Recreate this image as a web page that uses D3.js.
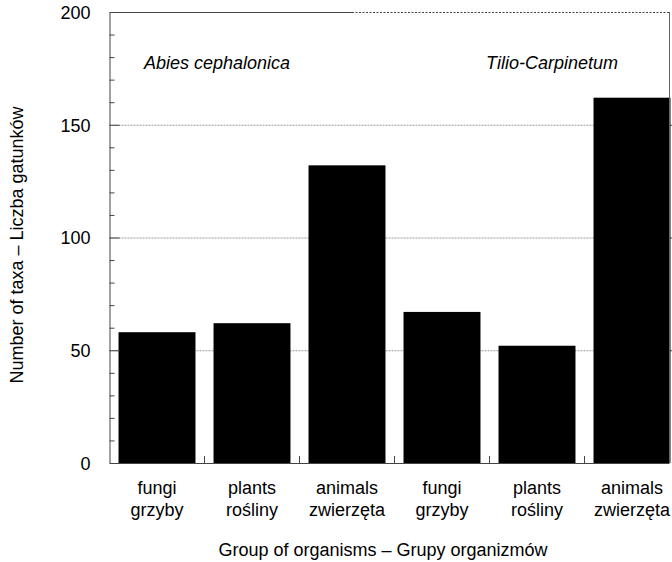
<!DOCTYPE html>
<html><head><meta charset="utf-8">
<script src="https://cdn.jsdelivr.net/npm/d3@7"></script>
<style>body{margin:0;background:#fff}svg{display:block}text{font-family:"Liberation Sans",Arial,sans-serif;fill:#000}</style>
</head><body><svg id="c" width="672" height="562"></svg>
<script>
const categories = ["c1","c2","c3","c4","c5","c6"];
const labelsTop = ["fungi","plants","animals","fungi","plants","animals"];
const labelsBottom = ["grzyby","rośliny","zwierzęta","grzyby","rośliny","zwierzęta"];
const values = [58, 62, 132, 67, 52, 162];
const yTicks = [0, 50, 100, 150, 200];
const groupNames = ["Abies cephalonica", "Tilio-Carpinetum"];

const svg = d3.select("#c");
const L = 109.5, R = 669.5, T = 12, B = 463;
const x = d3.scaleBand().domain(categories).range([L, L + 95*6]).paddingInner(0.19).paddingOuter(0.095);
const y = d3.scaleLinear().domain([0, 200]).range([B, T]);

// grid
svg.append("g").selectAll("line").data([50,100,150]).join("line")
  .attr("x1", L).attr("x2", R).attr("y1", d=>y(d)+0.5).attr("y2", d=>y(d)+0.5)
  .attr("stroke", "#999").attr("stroke-dasharray", "2,1");
// top
svg.append("line").attr("x1", L).attr("x2", 352).attr("y1", y(200)+0.5).attr("y2", y(200)+0.5).attr("stroke","#444");
svg.append("line").attr("x1", 352).attr("x2", R).attr("y1", y(200)+0.5).attr("y2", y(200)+0.5).attr("stroke","#444").attr("stroke-dasharray","2,1.5");

// bars
svg.append("g").selectAll("rect").data(values).join("rect")
  .attr("x", (d,i)=>x(categories[i])).attr("width", x.bandwidth())
  .attr("y", d=>y(d)).attr("height", d=>B - y(d)).attr("fill","#000");

// left axis
const yAxis = d3.axisLeft(y).tickValues(yTicks).tickSize(0).tickPadding(19).tickFormat(d3.format("d"));
const ga = svg.append("g").attr("transform", `translate(${L},0)`).call(yAxis);
ga.select(".domain").attr("stroke","#444");
ga.selectAll("text").style("font-size","18px").attr("dy","0.35em");
// minor ticks inward
svg.append("g").selectAll("line").data(d3.range(10, 200, 10)).join("line")
  .attr("x1", L).attr("x2", d => d%50===0 ? L+10 : L+5)
  .attr("y1", d=>y(d)+0.5).attr("y2", d=>y(d)+0.5).attr("stroke","#444");
// right axis
svg.append("line").attr("x1", R).attr("x2", R).attr("y1", T).attr("y2", B).attr("stroke","#666");
svg.append("g").selectAll("line").data([50,100,150]).join("line")
  .attr("x1", R).attr("x2", R+4).attr("y1", d=>y(d)+0.5).attr("y2", d=>y(d)+0.5).attr("stroke","#444");

// bottom axis
svg.append("line").attr("x1", L).attr("x2", R).attr("y1", B+0.5).attr("y2", B+0.5).attr("stroke","#444");
svg.append("g").selectAll("line").data(categories.slice(1)).join("line")
  .attr("x1", d=>x(d) - x.step()*x.paddingInner()/2).attr("x2", d=>x(d) - x.step()*x.paddingInner()/2)
  .attr("y1", B).attr("y2", B-7).attr("stroke","#444");

const lab = svg.append("g").selectAll("g").data(categories).join("g")
  .attr("transform", (d)=>`translate(${x(d)+x.bandwidth()/2},0)`);
lab.append("text").attr("y", 494).attr("text-anchor","middle").style("font-size","18px").text((d,i)=>labelsTop[i]);
lab.append("text").attr("y", 516).attr("text-anchor","middle").style("font-size","18px").text((d,i)=>labelsBottom[i]);

// group names
svg.append("text").attr("x", 217).attr("y", 69).attr("text-anchor","middle").style("font-size","18px").style("font-style","italic").text(groupNames[0]);
svg.append("text").attr("x", 552).attr("y", 69).attr("text-anchor","middle").style("font-size","18px").style("font-style","italic").text(groupNames[1]);

// axis titles
svg.append("text").attr("x", 383).attr("y", 556).attr("text-anchor","middle").style("font-size","18px").text("Group of organisms – Grupy organizmów");
svg.append("text").attr("transform","translate(23,245) rotate(-90)").attr("text-anchor","middle").style("font-size","18px").text("Number of taxa – Liczba gatunków");
</script></body></html>
